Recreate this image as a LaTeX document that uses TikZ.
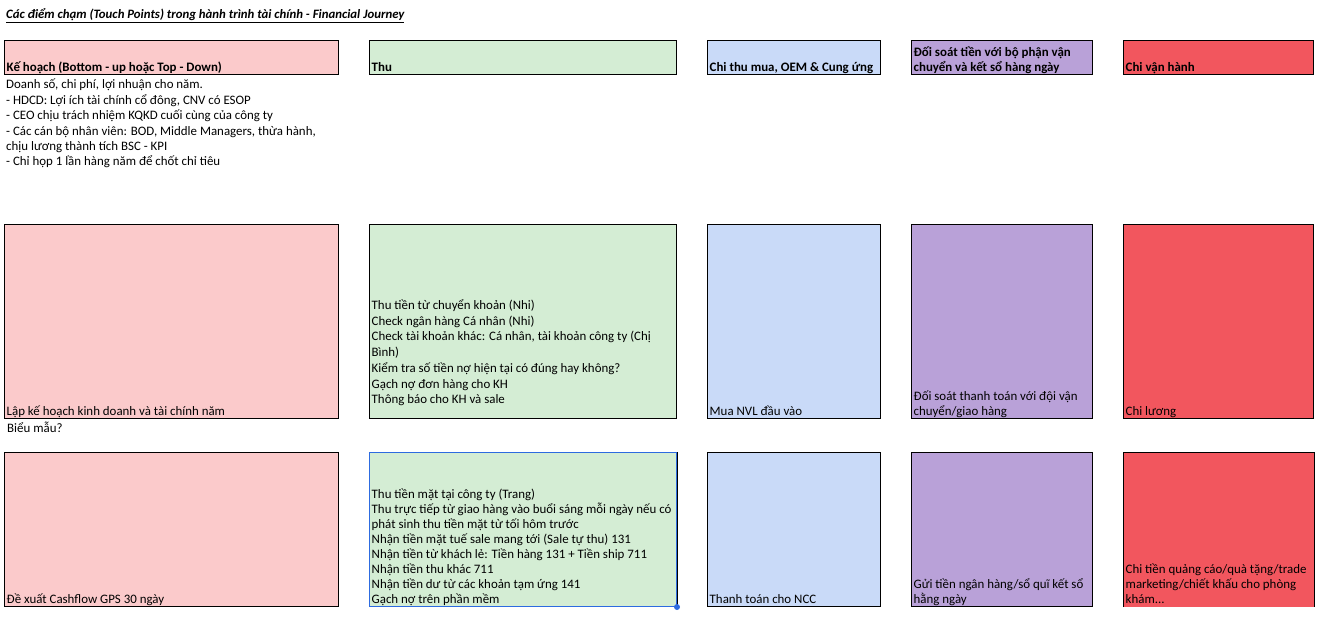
\documentclass[tikz,border=0pt]{standalone}
\usepackage{fontspec}
\setmainfont{Carlito}
\usepackage{xcolor}
\usepackage{tikz}

\definecolor{khpink}{HTML}{FBCACB}
\definecolor{thugreen}{HTML}{D4EDD4}
\definecolor{muablue}{HTML}{C9DAF8}
\definecolor{dspurple}{HTML}{B9A1D8}
\definecolor{vhred}{HTML}{F2565E}
\definecolor{selblue}{HTML}{2D6BE0}

\begin{document}
\begin{tikzpicture}[
  x=1pt, y=-1pt,
  every node/.style={inner sep=0pt, font=\fontsize{12.9}{15}\selectfont},
  cell/.style={draw, line width=1pt, anchor=north west},
  head/.style={cell, minimum height=34pt},
  mid/.style={cell, minimum height=194pt},
  low/.style={cell, minimum height=154pt},
  txt/.style={anchor=south west, align=left, xshift=2.5pt, yshift=-1.2pt,
    execute at end node=\strut}
]
  \useasboundingbox (0,0) rectangle (1317,616);

  % title
  \node[anchor=west, font=\fontsize{12.8}{15}\selectfont] (title) at (6,16)
    {\textbf{\textit{\underline{Các điểm chạm (Touch Points) trong hành trình tài chính - Financial Journey}}}};

  % header row
  \node[head, fill=khpink, minimum width=334pt] (kh) at (4,40) {};
  \node[head, fill=thugreen, minimum width=307pt] (thu) at (369,40) {};
  \node[head, fill=muablue, minimum width=173pt] (mua) at (707,40) {};
  \node[head, fill=dspurple, minimum width=181pt] (ds) at (911,40) {};
  \node[head, fill=vhred, minimum width=190pt] (vh) at (1123,40) {};

  \node[txt] (khT) at (kh.south west) {\textbf{Kế hoạch (Bottom - up hoặc Top - Down)}};
  \node[txt] (thuT) at (thu.south west) {\textbf{Thu}};
  \node[txt] (muaT) at (mua.south west) {\textbf{Chi thu mua, OEM \& Cung ứng}};
  \node[txt] (dsT) at (ds.south west) {\textbf{Đối soát tiền với bộ phận vận}\\\textbf{chuyển và kết sổ hàng ngày}};
  \node[txt] (vhT) at (vh.south west) {\textbf{Chi vận hành}};

  \node[anchor=north west, align=left, font=\fontsize{12.9}{15.4}\selectfont] (khNote) at (6,79)
    {Doanh số, chi phí, lợi nhuận cho năm.\\
     - HDCD: Lợi ích tài chính cổ đông, CNV có ESOP\\
     - CEO chịu trách nhiệm KQKD cuối cùng của công ty\\
     - Các cán bộ nhân viên: BOD, Middle Managers, thừa hành,\\
     chịu lương thành tích BSC - KPI\\
     - Chỉ họp 1 lần hàng năm để chốt chỉ tiêu};

  % middle row
  \node[mid, fill=khpink, minimum width=334pt] (kh2) at (4,224) {};
  \node[mid, fill=thugreen, minimum width=307pt] (thu2) at (369,224) {};
  \node[mid, fill=muablue, minimum width=173pt] (mua2) at (707,224) {};
  \node[mid, fill=dspurple, minimum width=181pt] (ds2) at (911,224) {};
  \node[mid, fill=vhred, minimum width=190pt] (vh2) at (1123,224) {};

  \node[txt] (kh2T) at (kh2.south west) {Lập kế hoạch kinh doanh và tài chính năm};
  \node[txt, yshift=11.5pt, font=\fontsize{12.9}{15.7}\selectfont] (thu2T) at (thu2.south west)
    {Thu tiền từ chuyển khoản (Nhi)\\
     Check ngân hàng Cá nhân (Nhi)\\
     Check tài khoản khác: Cá nhân, tài khoản công ty (Chị\\
     Bình)\\
     Kiểm tra số tiền nợ hiện tại có đúng hay không?\\
     Gạch nợ đơn hàng cho KH\\
     Thông báo cho KH và sale};
  \node[txt] (mua2T) at (mua2.south west) {Mua NVL đầu vào};
  \node[txt] (ds2T) at (ds2.south west) {Đối soát thanh toán với đội vận\\chuyển/giao hàng};
  \node[txt] (vh2T) at (vh2.south west) {Chi lương};

  \node[anchor=north west] (bieumau) at (7,422) {Biểu mẫu?};

  % bottom row
  \node[low, fill=khpink, minimum width=334pt] (kh3) at (4,452) {};
  \node[low, draw=selblue, fill=thugreen, minimum width=307pt] (thu3) at (369,452) {};
  \draw[line width=1pt] (thu3.north east) -- (thu3.south east);
  \fill[selblue] (thu3.south east) circle (3pt);
  \node[low, fill=muablue, minimum width=173pt] (mua3) at (707,452) {};
  \node[low, fill=dspurple, minimum width=181pt] (ds3) at (911,452) {};
  \node[low, draw=none, fill=vhred, minimum width=190pt] (vh3) at (1123,452) {};
  \draw[line width=1pt] (vh3.south west) -- (vh3.north west) -- (vh3.north east) -- (vh3.south east);

  \node[txt] (kh3T) at (kh3.south west) {Đề xuất Cashflow GPS 30 ngày};
  \node[txt] (thu3T) at (thu3.south west)
    {Thu tiền mặt tại công ty (Trang)\\
     Thu trực tiếp từ giao hàng vào buổi sáng mỗi ngày nếu có\\
     phát sinh thu tiền mặt từ tối hôm trước\\
     Nhận tiền mặt tuế sale mang tới (Sale tự thu) 131\\
     Nhận tiền từ khách lẻ: Tiền hàng 131 + Tiền ship 711\\
     Nhận tiền thu khác 711\\
     Nhận tiền dư từ các khoản tạm ứng 141\\
     Gạch nợ trên phần mềm};
  \node[txt] (mua3T) at (mua3.south west) {Thanh toán cho NCC};
  \node[txt] (ds3T) at (ds3.south west) {Gửi tiền ngân hàng/sổ quĩ kết sổ\\hằng ngày};
  \node[txt] (vh3T) at (vh3.south west) {Chi tiền quảng cáo/quà tặng/trade\\marketing/chiết khấu cho phòng\\khám...};
\end{tikzpicture}
\end{document}
